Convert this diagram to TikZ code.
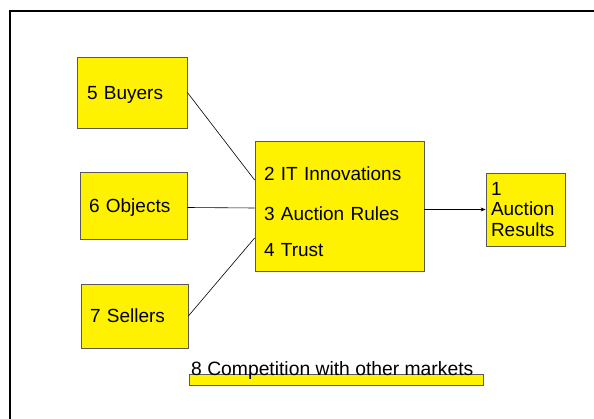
\documentclass[tikz,border=0pt]{standalone}
\usepackage{fontspec}
\setmainfont{Liberation Sans}
\usetikzlibrary{arrows.meta}

\tikzset{
    factor/.style={draw=black!65, fill=yellow, line width=0.8pt, align=left,
        inner ysep=0pt, font=\fontsize{19}{20.5}\selectfont},
    single/.style={factor, text depth=0pt},
    link/.style={line width=0.6pt}
}

\begin{document}
\begin{tikzpicture}[x=1pt, y=-1pt]
    \useasboundingbox (0, 0) rectangle (594, 419);
    \draw[line width=2pt] (10, 419) -- (10, 11) -- (594, 11);

    \node[single, minimum width=110, minimum height=71, inner xsep=10, text width=90] (buyers) at (132, 92.5) {5 Buyers};
    \node[single, minimum width=107, minimum height=67, inner xsep=9, text width=89] (objects) at (133.5, 205.5) {6 Objects};
    \node[single, minimum width=107, minimum height=64, inner xsep=9, text width=89] (sellers) at (134.5, 316) {7 Sellers};

    \node[factor, minimum width=169, minimum height=130, inner xsep=9, text width=151] (market) at (339.5, 206)
        {\rule{0pt}{26pt}2 IT Innovations\\[19pt]3 Auction Rules\\[16pt]4 Trust};
    \node[factor, minimum width=79, minimum height=73, inner xsep=5, text width=69] (result) at (525.5, 209.5)
        {1\\Auction\\Results};

    \draw[link] (buyers.east) -- ([yshift=26pt]market.west);
    \draw[link] ([yshift=-2pt]objects.east) -- ([yshift=-2pt]market.west);
    \draw[link] (sellers.east) -- ([yshift=-32pt]market.west);
    \draw[link, -{Stealth[length=5pt, width=4pt]}] (market.east |- result.west) -- (result.west);

    \node[draw=black!65, fill=yellow, line width=0.8pt, minimum width=294, minimum height=11, inner sep=0pt] (bar) at (336, 379.5) {};
    \node[anchor=base west, inner sep=0pt, font=\fontsize{19.3}{20.5}\selectfont] (competition) at (191, 375) {8 Competition with other markets};
\end{tikzpicture}
\end{document}
